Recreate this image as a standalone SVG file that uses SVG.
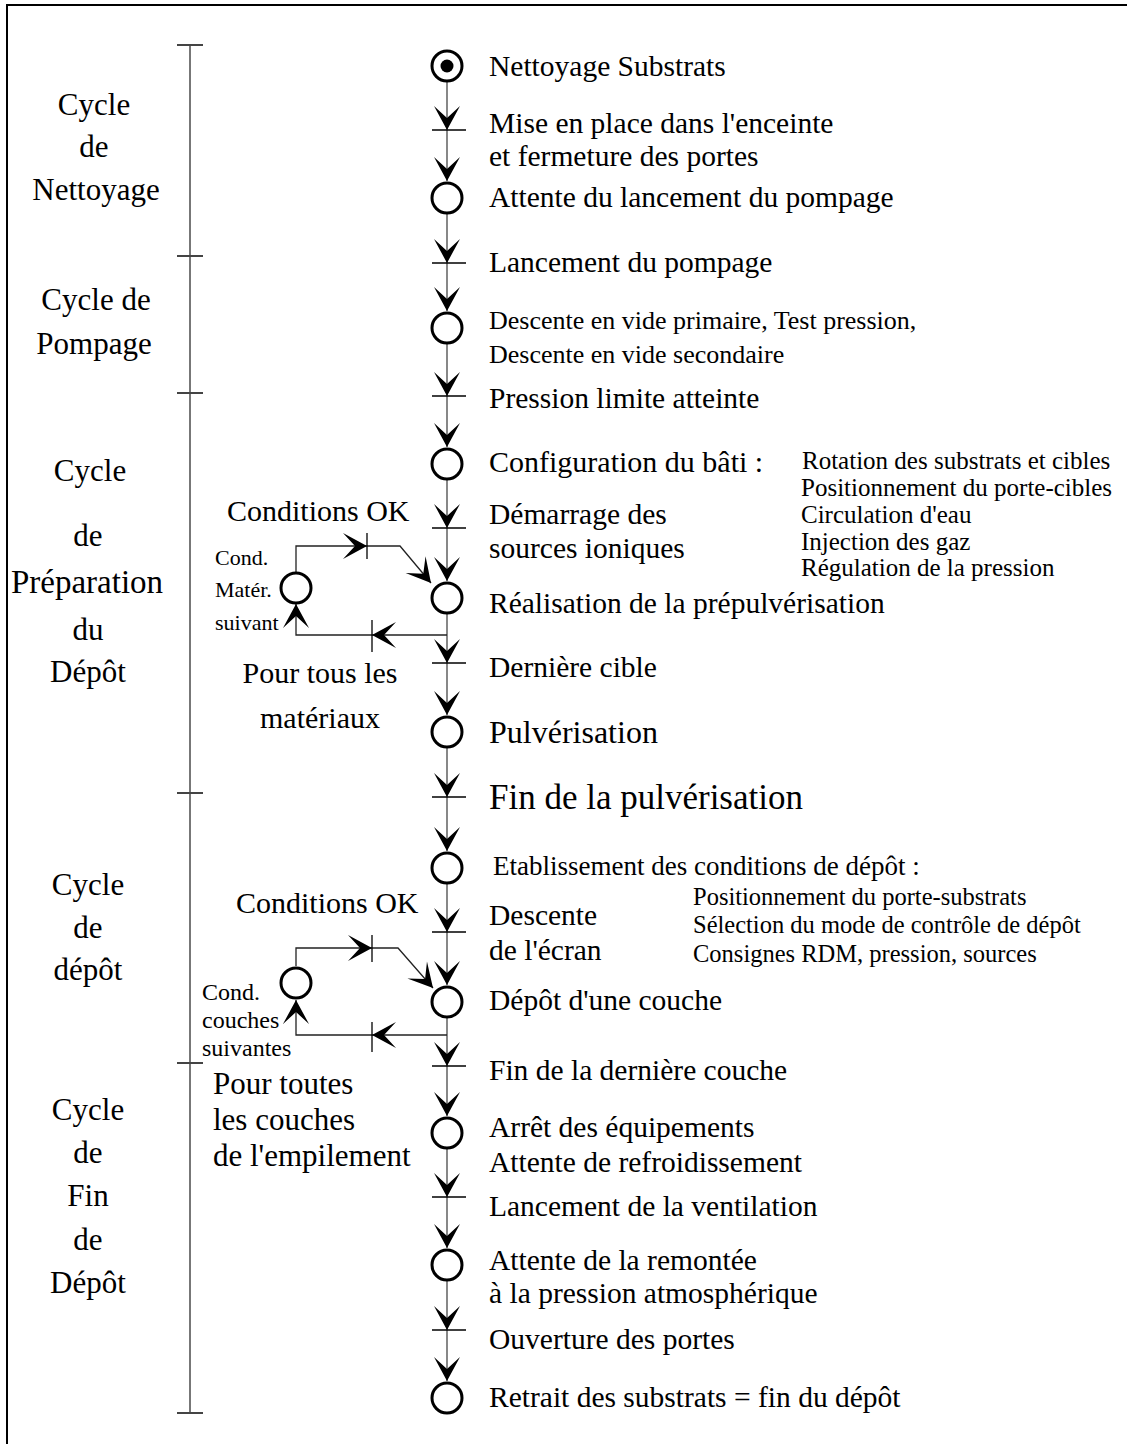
<svg xmlns="http://www.w3.org/2000/svg" width="1127" height="1444" viewBox="0 0 1127 1444">
<defs>
<marker id="arr" viewBox="-26 -14 28 28" refX="0" refY="0" markerWidth="28" markerHeight="28" markerUnits="userSpaceOnUse" orient="auto"><path d="M0,0 L-24,-13 L-12,0 L-24,13 Z" fill="#000"/></marker>
<style>
text{font-family:"Liberation Serif","Times New Roman",serif;fill:#000}
.t{font-size:29.5px}
.s{font-size:25px}
.s2{font-size:24.5px}
.l{font-size:31px;text-anchor:middle}
.m{font-size:30px}
.st{fill:#fff;stroke:#000;stroke-width:3}
.bar{stroke:#000;stroke-width:1.3}
.main{fill:none;stroke:#555;stroke-width:1.4}
.loop{fill:none;stroke:#222;stroke-width:1.3}
.brk{stroke:#777;stroke-width:2}
.tick{stroke:#444;stroke-width:2}
</style>
</defs>
<rect width="1127" height="1444" fill="#fff"/>
<g id="frame"><path d="M7,1444 V5 H1127" fill="none" stroke="#000" stroke-width="2"/></g>
<g id="bracket">
<line class="brk" x1="190" y1="45" x2="190" y2="1413"/>
<line class="tick" x1="177" y1="45" x2="203" y2="45"/>
<line class="tick" x1="177" y1="256" x2="203" y2="256"/>
<line class="tick" x1="177" y1="393" x2="203" y2="393"/>
<line class="tick" x1="177" y1="793" x2="203" y2="793"/>
<line class="tick" x1="177" y1="1063" x2="203" y2="1063"/>
<line class="tick" x1="177" y1="1413" x2="203" y2="1413"/>
</g>
<g id="phase-labels">
<text class="l" x="94" y="115">Cycle</text><text class="l" x="94" y="157">de</text><text class="l" x="96" y="200">Nettoyage</text>
<text class="l" x="96" y="310">Cycle de</text><text class="l" x="94" y="354">Pompage</text>
<text class="l" x="90" y="481">Cycle</text><text class="l" x="88" y="546">de</text><text class="l" x="87" y="593" style="font-size:33px">Préparation</text><text class="l" x="88" y="640">du</text><text class="l" x="88" y="682">Dépôt</text>
<text class="l" x="88" y="895">Cycle</text><text class="l" x="88" y="938">de</text><text class="l" x="88" y="980">dépôt</text>
<text class="l" x="88" y="1120">Cycle</text><text class="l" x="88" y="1163">de</text><text class="l" x="88" y="1206">Fin</text><text class="l" x="88" y="1250">de</text><text class="l" x="88" y="1293">Dépôt</text>
</g>
<g id="connectors">
<path class="main" d="M447,82 V130" marker-end="url(#arr)"/>
<path class="main" d="M447,130 V181" marker-end="url(#arr)"/>
<path class="main" d="M447,214 V263" marker-end="url(#arr)"/>
<path class="main" d="M447,263 V311" marker-end="url(#arr)"/>
<path class="main" d="M447,344 V396" marker-end="url(#arr)"/>
<path class="main" d="M447,396 V447" marker-end="url(#arr)"/>
<path class="main" d="M447,480 V528" marker-end="url(#arr)"/>
<path class="main" d="M447,528 V581" marker-end="url(#arr)"/>
<path class="main" d="M447,614 V663" marker-end="url(#arr)"/>
<path class="main" d="M447,663 V715" marker-end="url(#arr)"/>
<path class="main" d="M447,748 V797" marker-end="url(#arr)"/>
<path class="main" d="M447,797 V851" marker-end="url(#arr)"/>
<path class="main" d="M447,884 V932" marker-end="url(#arr)"/>
<path class="main" d="M447,932 V985" marker-end="url(#arr)"/>
<path class="main" d="M447,1018 V1066" marker-end="url(#arr)"/>
<path class="main" d="M447,1066 V1116" marker-end="url(#arr)"/>
<path class="main" d="M447,1149 V1197" marker-end="url(#arr)"/>
<path class="main" d="M447,1197 V1248" marker-end="url(#arr)"/>
<path class="main" d="M447,1281 V1330" marker-end="url(#arr)"/>
<path class="main" d="M447,1330 V1381" marker-end="url(#arr)"/>
<path class="loop" d="M296,572 V546 H367" marker-end="url(#arr)"/>
<path class="loop" d="M367,546 H400 L431,583" marker-end="url(#arr)"/>
<path class="loop" d="M447,635 H372" marker-end="url(#arr)"/>
<path class="loop" d="M372,635 H296 V604" marker-end="url(#arr)"/>
<path class="loop" d="M296,966 V948 H372" marker-end="url(#arr)"/>
<path class="loop" d="M372,948 H398 L433,988" marker-end="url(#arr)"/>
<path class="loop" d="M447,1035 H372" marker-end="url(#arr)"/>
<path class="loop" d="M372,1035 H296 V1000" marker-end="url(#arr)"/>
</g>
<g id="s0"><circle class="st" cx="447" cy="66" r="15"/><circle cx="447" cy="66" r="6.5" fill="#000"/><text class="t" x="489" y="76">Nettoyage Substrats</text></g>
<g id="t0"><line class="bar" x1="432" y1="130" x2="466" y2="130"/><text class="t" x="489" y="133">Mise en place dans l'enceinte</text><text class="t" x="489" y="166">et fermeture des portes</text></g>
<g id="s1"><circle class="st" cx="447" cy="198" r="15"/><text class="t" x="489" y="207">Attente du lancement du pompage</text></g>
<g id="t1"><line class="bar" x1="432" y1="263" x2="466" y2="263"/><text class="t" x="489" y="272">Lancement du pompage</text></g>
<g id="s2"><circle class="st" cx="447" cy="328" r="15"/><text class="t" x="489" y="329" style="font-size:26px">Descente en vide primaire, Test pression,</text><text class="t" x="489" y="363" style="font-size:26px">Descente en vide secondaire</text></g>
<g id="t2"><line class="bar" x1="432" y1="396" x2="466" y2="396"/><text class="t" x="489" y="408">Pression limite atteinte</text></g>
<g id="s3"><circle class="st" cx="447" cy="464" r="15"/><text class="t" x="489" y="472" style="font-size:30px">Configuration du bâti :</text>
<text class="s" x="802" y="469">Rotation des substrats et cibles</text><text class="s" x="801" y="496">Positionnement du porte-cibles</text><text class="s" x="801" y="523">Circulation d'eau</text><text class="s" x="801" y="550">Injection des gaz</text><text class="s" x="801" y="576">Régulation de la pression</text></g>
<g id="t3"><line class="bar" x1="432" y1="528" x2="466" y2="528"/><text class="t" x="489" y="524">Démarrage des</text><text class="t" x="489" y="558">sources ioniques</text></g>
<g id="s4"><circle class="st" cx="447" cy="598" r="15"/><text class="t" x="489" y="613">Réalisation de la prépulvérisation</text></g>
<g id="t4"><line class="bar" x1="432" y1="663" x2="466" y2="663"/><text class="t" x="489" y="677">Dernière cible</text></g>
<g id="s5"><circle class="st" cx="447" cy="732" r="15"/><text class="t" x="489" y="743" style="font-size:32px">Pulvérisation</text></g>
<g id="t5"><line class="bar" x1="432" y1="797" x2="466" y2="797"/><text class="t" x="489" y="809" style="font-size:35px">Fin de la pulvérisation</text></g>
<g id="s6"><circle class="st" cx="447" cy="868" r="15"/><text class="t" x="493" y="875" style="font-size:27px">Etablissement des conditions de dépôt :</text>
<text class="s2" x="693" y="905">Positionnement du porte-substrats</text><text class="s2" x="693" y="933">Sélection du mode de contrôle de dépôt</text><text class="s2" x="693" y="962">Consignes RDM, pression, sources</text></g>
<g id="t6"><line class="bar" x1="432" y1="932" x2="466" y2="932"/><text class="t" x="489" y="925">Descente</text><text class="t" x="489" y="960">de l'écran</text></g>
<g id="s7"><circle class="st" cx="447" cy="1002" r="15"/><text class="t" x="489" y="1010">Dépôt d'une couche</text></g>
<g id="t7"><line class="bar" x1="432" y1="1066" x2="466" y2="1066"/><text class="t" x="489" y="1080">Fin de la dernière couche</text></g>
<g id="s8"><circle class="st" cx="447" cy="1133" r="15"/><text class="t" x="489" y="1137">Arrêt des équipements</text><text class="t" x="489" y="1172">Attente de refroidissement</text></g>
<g id="t8"><line class="bar" x1="432" y1="1197" x2="466" y2="1197"/><text class="t" x="489" y="1216">Lancement de la ventilation</text></g>
<g id="s9"><circle class="st" cx="447" cy="1265" r="15"/><text class="t" x="489" y="1270">Attente de la remontée</text><text class="t" x="489" y="1303">à la pression atmosphérique</text></g>
<g id="t9"><line class="bar" x1="432" y1="1330" x2="466" y2="1330"/><text class="t" x="489" y="1349">Ouverture des portes</text></g>
<g id="s10"><circle class="st" cx="447" cy="1398" r="15"/><text class="t" x="489" y="1407">Retrait des substrats = fin du dépôt</text></g>
<g id="loop1">
<circle class="st" cx="296" cy="588" r="15"/>
<line class="bar" x1="367" y1="533" x2="367" y2="559"/>
<line class="bar" x1="372" y1="620" x2="372" y2="652"/>
<text class="m" x="227" y="521">Conditions OK</text>
<text x="215" y="565" style="font-size:22px">Cond.</text><text x="215" y="597" style="font-size:22px">Matér.</text><text x="215" y="630" style="font-size:22px">suivant</text>
<text class="m" x="320" y="683" text-anchor="middle">Pour tous les</text><text class="m" x="320" y="728" text-anchor="middle">matériaux</text>
</g>
<g id="loop2">
<circle class="st" cx="296" cy="983" r="15"/>
<line class="bar" x1="372" y1="935" x2="372" y2="962"/>
<line class="bar" x1="372" y1="1022" x2="372" y2="1052"/>
<text class="m" x="236" y="913">Conditions OK</text>
<text x="202" y="1000" style="font-size:24px">Cond.</text><text x="202" y="1028" style="font-size:24px">couches</text><text x="202" y="1056" style="font-size:24px">suivantes</text>
<text class="m" x="213" y="1094" style="font-size:31px">Pour toutes</text><text class="m" x="213" y="1130" style="font-size:31px">les couches</text><text class="m" x="213" y="1166" style="font-size:31px">de l'empilement</text>
</g>
</svg>
